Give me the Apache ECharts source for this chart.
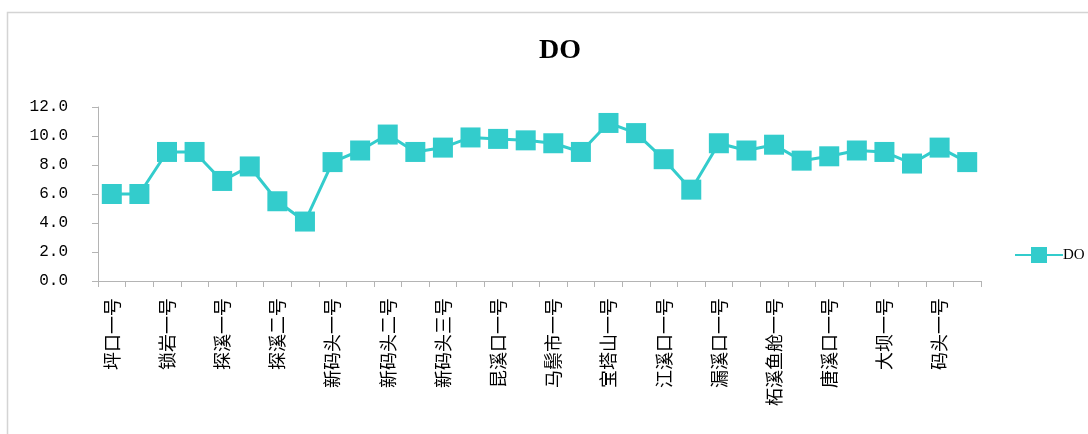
<!DOCTYPE html>
<html>
<head>
<meta charset="utf-8">
<style>
  html, body { margin: 0; padding: 0; background: #fff; }
  #chart { width: 1088px; height: 434px; }
</style>
<script src="https://cdn.jsdelivr.net/npm/echarts@6/dist/echarts.min.js"></script>
</head>
<body>
<div id="chart"></div>
<script>
// Monitoring stations along the river (every other name is printed on the axis)
const stations = [
  '坪口一号', '坪口二号', '锁岩一号', '锁岩二号', '探溪一号', '探溪一号下',
  '探溪二号', '探溪二号下', '新码头一号', '新码头一号下', '新码头二号', '新码头二号下',
  '新码头三号', '新码头三号下', '昆溪口一号', '昆溪口二号', '马鬃市一号', '马鬃市二号',
  '宝塔山一号', '宝塔山二号', '江溪口一号', '江溪口二号', '漏溪口一号', '漏溪口二号',
  '柘溪鱼舱一号', '柘溪鱼舱二号', '唐溪口一号', '唐溪口二号', '大坝一号', '大坝二号',
  '码头一号', '码头二号'
];

// Dissolved oxygen (mg/L) at each station
const doValues = [
  6.0, 6.0, 8.9, 8.9, 6.9, 7.9, 5.5, 4.1,
  8.2, 9.0, 10.1, 8.9, 9.2, 9.9, 9.8, 9.7,
  9.5, 8.9, 10.9, 10.2, 8.4, 6.3, 9.5, 9.0,
  9.4, 8.3, 8.6, 9.0, 8.9, 8.1, 9.2, 8.2
];

// Value axis range
const yMin = 0;
const yMax = 12;
const yStep = 2;

const seriesName = 'DO';
const lineColor = '#33CCCC';
const axisGray = '#b4b4b4';

const chart = echarts.init(document.getElementById('chart'), null, { renderer: 'canvas' });

chart.setOption({
  backgroundColor: '#ffffff',
  animation: false,
  graphic: [{
    type: 'rect',
    silent: true,
    shape: { x: 7.5, y: 12.5, width: 1200, height: 600 },
    style: { fill: 'none', stroke: '#d4d4d4', lineWidth: 1.5 }
  }],
  title: {
    text: seriesName,
    left: 555,
    top: 32,
    textAlign: 'center',
    textStyle: {
      fontFamily: 'Liberation Serif',
      fontWeight: 'bold',
      fontSize: 28,
      color: '#000'
    }
  },
  legend: {
    left: 1009,
    top: 242,
    itemWidth: 48,
    itemHeight: 20,
    itemGap: 4,
    textStyle: { fontFamily: 'Liberation Serif', fontSize: 15, color: '#000', padding: [0, 0, 0, -5] },
    data: [seriesName]
  },
  grid: {
    left: 98,
    right: 107,
    top: 107,
    bottom: 153,
    containLabel: false
  },
  xAxis: {
    type: 'category',
    data: stations,
    boundaryGap: true,
    axisLine: { show: true, lineStyle: { color: axisGray, width: 1 } },
    axisTick: { show: true, alignWithLabel: false, interval: 0, length: 6, lineStyle: { color: axisGray } },
    axisLabel: {
      interval: 1,
      rotate: 90,
      margin: 17,
      fontFamily: 'Noto Sans CJK SC',
      fontSize: 18,
      color: '#000'
    },
    splitLine: { show: false }
  },
  yAxis: {
    type: 'value',
    min: yMin,
    max: yMax,
    interval: yStep,
    axisLine: { show: true, lineStyle: { color: axisGray, width: 1 } },
    axisTick: { show: true, length: 6, lineStyle: { color: axisGray } },
    axisLabel: {
      margin: 30,
      fontFamily: 'Liberation Mono',
      fontSize: 16,
      color: '#000',
      formatter: v => v.toFixed(1)
    },
    splitLine: { show: false }
  },
  series: [{
    name: seriesName,
    type: 'line',
    data: doValues,
    symbol: 'rect',
    symbolSize: 20,
    showAllSymbol: true,
    lineStyle: { color: lineColor, width: 3 },
    itemStyle: { color: lineColor, borderWidth: 0 },
    emphasis: { disabled: true }
  }]
});
</script>
</body>
</html>
